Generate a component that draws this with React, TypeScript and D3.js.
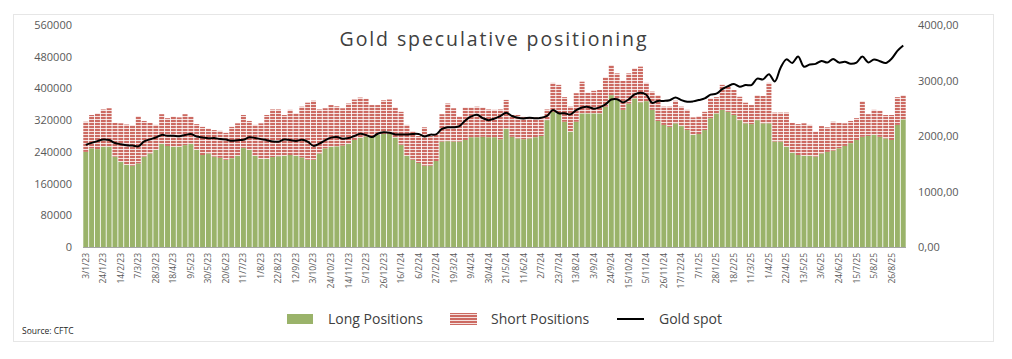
import React from "react";
import * as d3 from "d3";

const tickLabels: string[] = ["3/1/23","24/1/23","14/2/23","7/3/23","28/3/23","18/4/23","9/5/23","30/5/23","20/6/23","11/7/23","1/8/23","22/8/23","12/9/23","3/10/23","24/10/23","14/11/23","5/12/23","26/12/23","16/1/24","6/2/24","27/2/24","19/3/24","9/4/24","30/4/24","21/5/24","11/6/24","2/7/24","23/7/24","13/8/24","3/9/24","24/9/24","15/10/24","5/11/24","26/11/24","17/12/24","7/1/25","28/1/25","18/2/25","11/3/25","1/4/25","22/4/25","13/5/25","3/6/25","24/6/25","15/7/25","5/8/25","26/8/25"];

// total (long + short) positions, thousands of contracts
const totalK: number[] = [316,333,337,347,350,313,312,309,307,330,318,313,308,335,325,329,327,335,329,310,303,299,295,293,288,303,312,333,318,308,312,333,347,347,333,346,337,354,364,369,347,350,358,355,350,362,372,377,374,358,358,370,372,352,341,308,292,280,302,280,283,335,362,350,329,352,352,354,352,347,346,347,371,333,333,329,327,327,325,347,414,409,378,354,388,417,389,394,396,428,459,438,419,438,451,455,414,392,383,354,354,369,354,346,327,330,341,375,378,409,404,396,379,364,358,383,381,414,339,339,339,313,310,312,308,291,305,302,316,313,312,318,325,368,335,346,344,333,333,378,383];

const longK: number[] = [240,249,247,253,253,228,215,207,205,211,228,236,245,260,255,253,253,257,260,245,232,236,228,225,220,224,230,250,245,230,222,222,227,229,230,232,230,226,220,220,236,249,253,254,256,260,270,275,279,280,283,285,285,276,258,230,220,212,205,205,217,266,267,266,266,270,277,277,278,277,277,272,298,278,274,272,274,277,280,320,341,337,316,291,316,337,337,337,337,354,383,371,346,362,375,365,368,346,318,308,303,312,305,295,283,285,295,325,337,346,341,333,320,312,310,320,312,312,266,266,253,238,232,230,230,228,236,240,243,249,255,262,270,278,280,283,278,274,270,308,322];

const goldSpot: number[] = [1840,1877,1908,1936,1928,1873,1853,1835,1827,1813,1904,1940,1973,2020,2003,2005,1997,2017,2034,1990,1975,1960,1963,1944,1935,1913,1925,1932,1978,1965,1944,1925,1902,1898,1937,1926,1912,1931,1900,1822,1861,1923,1971,1983,1951,1963,2000,2041,2018,1980,2040,2067,2059,2029,2028,2029,2037,2035,1992,2024,2030,2128,2158,2158,2178,2280,2352,2383,2322,2286,2314,2358,2421,2360,2327,2316,2329,2320,2330,2364,2468,2409,2410,2390,2465,2513,2524,2493,2516,2570,2657,2663,2605,2662,2748,2781,2743,2598,2631,2632,2643,2694,2646,2617,2624,2648,2677,2745,2763,2843,2898,2935,2888,2918,2918,3034,3020,3114,2982,3230,3381,3317,3431,3248,3290,3300,3353,3323,3388,3323,3338,3302,3324,3431,3326,3380,3348,3315,3393,3533,3630];

const leftTicks: number[] = [0, 80000, 160000, 240000, 320000, 400000, 480000, 560000];
const rightTicks: number[] = [0, 1000, 2000, 3000, 4000];

const W = 1012, H = 359;
const X0 = 83, X1 = 906, Y0 = 247, Y1 = 25;
const FONT = "'Open Sans', 'Noto Sans', sans-serif";

export default function App() {
  const idx = totalK.map((_, i) => i);
  const x = d3.scaleBand<number>().domain(idx).range([X0, X1]).paddingInner(0.15).paddingOuter(0.05);
  const yL = d3.scaleLinear().domain([0, 560000]).range([Y0, Y1]);
  const yR = d3.scaleLinear().domain([0, 4000]).range([Y0, Y1]);
  const bw = x.bandwidth();
  const line = d3.line<number>()
    .x((_, i) => (x(i) as number) + bw / 2)
    .y((d) => yR(d))
    .curve(d3.curveCatmullRom.alpha(0.5));

  return (
    <svg width={W} height={H} style={{ position: "absolute", left: 0, top: 0, background: "#fff" }}>
      <defs>
        <pattern id="stripes" patternUnits="userSpaceOnUse" width="8" height="3">
          <rect x="0" y="0" width="8" height="3" fill="#ffffff" />
          <rect x="0" y="0" width="8" height="2.2" fill="#cc6a62" />
        </pattern>
      </defs>
      <rect x={13.5} y={14.5} width={980} height={327} fill="#fff" stroke="#e6e6e6" strokeWidth={1} />
      <text x={494} y={46} textAnchor="middle" fontFamily={FONT} fontSize={19.5} letterSpacing={1.9} fill="#404040">
        Gold speculative positioning
      </text>
      {idx.map((i) => {
        const long = longK[i] * 1000;
        const total = totalK[i] * 1000;
        const bx = x(i) as number;
        return (
          <g key={i}>
            <rect x={bx} y={yL(long)} width={bw} height={Y0 - yL(long)} fill="#9ab36a" />
            <rect x={bx} y={yL(total)} width={bw} height={yL(long) - yL(total)} fill="url(#stripes)" />
          </g>
        );
      })}
      <line x1={X0} x2={X1} y1={Y0 + 0.5} y2={Y0 + 0.5} stroke="#a6a6a6" strokeWidth={1} />
      <path d={line(goldSpot) || ""} fill="none" stroke="#000" strokeWidth={2} />
      {leftTicks.map((t) => (
        <text key={t} x={72} y={yL(t) + 4} textAnchor="end" fontFamily={FONT} fontSize={11} fill="#595959">
          {t}
        </text>
      ))}
      {rightTicks.map((t) => (
        <text key={t} x={918} y={yR(t) + 4} textAnchor="start" fontFamily={FONT} fontSize={11} fill="#595959">
          {d3.format(".2f")(t).replace(".", ",")}
        </text>
      ))}
      {tickLabels.map((lab, k) => {
        const i = k * 3;
        const cx = (x(i) as number) + bw / 2 + 3;
        return (
          <text key={lab} transform={`translate(${cx},${Y0 + 6}) rotate(-90)`} textAnchor="end" fontFamily={FONT} fontSize={8.5} fill="#595959">
            {lab}
          </text>
        );
      })}
      <rect x={287} y={314} width={26} height={10} fill="#9ab36a" />
      <text x={328} y={324} fontFamily={FONT} fontSize={14} fill="#404040">Long Positions</text>
      <rect x={450} y={313} width={27} height={12} fill="url(#stripes)" />
      <text x={491} y={324} fontFamily={FONT} fontSize={14} fill="#404040">Short Positions</text>
      <line x1={617} x2={644} y1={319} y2={319} stroke="#000" strokeWidth={2} />
      <text x={659} y={324} fontFamily={FONT} fontSize={14} fill="#404040">Gold spot</text>
      <text x={22} y={334} fontFamily={FONT} fontSize={8.5} fill="#262626">Source: CFTC</text>
    </svg>
  );
}
